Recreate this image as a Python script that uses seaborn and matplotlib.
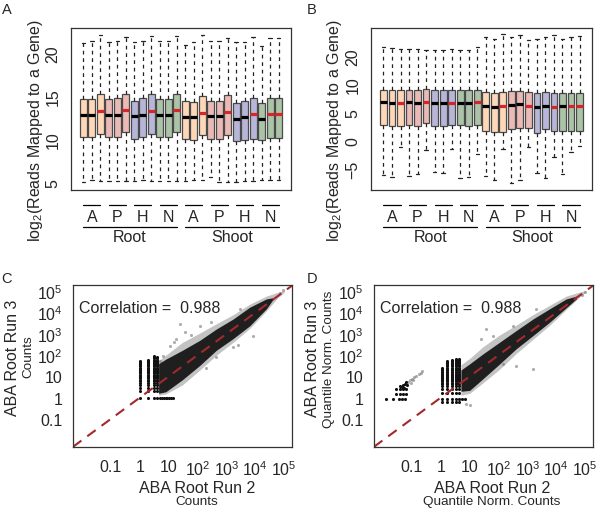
import numpy as np
import pandas as pd
import matplotlib
matplotlib.use('Agg')
import matplotlib.pyplot as plt
import seaborn as sns

# ---- libraries (24 boxes): tissue x treatment x replicate ----
tissues = ['Root', 'Shoot']
treatments = ['A', 'P', 'H', 'N']
n_rep = 3
treat_colours = {'A': '#FDD7B7', 'P': '#EABAB6', 'H': '#B7B6D8', 'N': '#ABC3A6'}
lib_names = [f'{t} {g} {r + 1}' for t in tissues for g in treatments for r in range(n_rep)]
lib_treat = [g for t in tissues for g in treatments for r in range(n_rep)]
red_median = [0, 0, 1, 0, 0, 1, 0, 0, 1, 0, 0, 1,
              0, 0, 1, 0, 0, 1, 0, 0, 1, 0, 1, 1]

# panel A: log2 raw counts
a_high = [21.1, 21.3, 22.1, 21.2, 21.4, 21.8, 21.2, 21.4, 21.9, 21.3, 21.4, 21.9,
          20.9, 21.2, 22.0, 21.3, 21.3, 21.7, 21.2, 21.2, 21.8, 20.8, 21.7, 21.7]
a_q3 = [14.7, 14.7, 15.2, 14.7, 14.8, 15.3, 14.5, 14.8, 15.2, 14.7, 14.7, 15.3,
        14.4, 14.3, 15.0, 14.5, 14.5, 15.1, 14.2, 14.4, 14.8, 14.2, 14.8, 14.8]
a_med = [12.85, 12.85, 13.3, 12.8, 12.8, 13.45, 12.7, 12.85, 13.35, 12.8, 12.8, 13.45,
         12.65, 12.55, 13.1, 12.75, 12.75, 13.15, 12.4, 12.55, 12.9, 12.4, 12.9, 12.9]
a_q1 = [10.35, 10.35, 10.7, 10.35, 10.35, 10.9, 10.1, 10.35, 10.7, 10.35, 10.3, 10.9,
        10.1, 9.95, 10.55, 10.1, 10.1, 10.5, 9.8, 10.0, 10.1, 9.9, 10.2, 10.2]
a_low = [5.1, 5.4, 5.2, 5.2, 5.2, 5.2, 5.2, 5.3, 5.2, 5.2, 5.2, 5.2,
         5.2, 5.3, 5.3, 5.7, 5.1, 5.1, 5.1, 5.2, 5.2, 5.3, 5.4, 5.3]

# panel B: log2 normalised
b_high = [16.7, 16.6, 16.4, 16.4, 16.4, 16.1, 16.1, 16.2, 16.4, 16.2, 16.1, 16.7,
          18.5, 18.2, 19.1, 18.5, 18.8, 17.9, 18.2, 18.5, 18.8, 18.2, 18.5, 18.6]
b_q3 = [9.05, 9.05, 9.05, 9.1, 9.1, 9.2, 9.05, 9.05, 9.05, 9.05, 9.05, 9.05,
        8.75, 8.5, 8.6, 8.8, 8.9, 8.6, 8.45, 8.6, 8.5, 8.45, 8.45, 8.45]
b_med = [6.85, 6.7, 6.7, 6.85, 6.75, 6.95, 6.75, 6.75, 6.75, 6.75, 6.7, 6.85,
         6.25, 5.95, 6.25, 6.45, 6.55, 6.25, 5.95, 6.25, 5.95, 6.25, 6.1, 6.1]
b_q1 = [2.8, 2.55, 2.7, 2.85, 2.7, 3.15, 2.7, 2.7, 2.8, 2.8, 2.55, 2.8,
        1.7, 1.6, 1.6, 2.1, 2.2, 2.2, 1.3, 2.1, 1.7, 1.8, 1.7, 1.7]
b_low = [-6.1, -6.4, -1.1, -6.3, -6.0, -1.7, -5.5, -5.8, -1.4, -6.6, -6.4, -2.4,
         -6.3, -7.1, -1.5, -7.6, -7.0, -1.1, -5.8, -6.7, -3.0, -5.9, -2.1, -0.9]

# ---- panels C / D: run 2 vs run 3 scatter ----
log_ticks = [0.1, 1, 10, 100, 1000, 10000, 100000]
log_labels = ['0.1', '1', '10', r'$\mathregular{10^2}$', r'$\mathregular{10^3}$',
              r'$\mathregular{10^4}$', r'$\mathregular{10^5}$']
stripe_counts = [2, 3, 4, 5, 6, 7, 8, 9, 10, 11, 12, 14, 16, 18, 20, 23, 26, 30,
                 35, 40, 45, 50, 55, 60, 70, 80, 90]

# C: raw counts
c_core_x = [4.5, 8, 30, 120, 450, 1700, 6400, 24000, 40000]
c_core_lo = [1.6, 1.9, 7, 33, 170, 600, 2400, 15000, 40000]
c_core_hi = [40, 65, 170, 500, 1700, 5000, 18000, 44000, 50000]
c_halo_x = [4.5, 8, 30, 120, 450, 1700, 6400, 24000, 60000, 100000]
c_halo_lo = [1.3, 1.5, 4, 20, 100, 400, 1800, 12000, 50000, 90000]
c_halo_hi = [55, 100, 400, 1100, 3000, 8000, 25000, 60000, 90000, 110000]
c_col_x = [1, 2, 3, 4]
c_col_top = [55, 65, 90, 80]
c_row_x = [1, 2, 3, 4, 5, 6, 7, 8, 9, 10, 12, 14]
c_out_x = [24, 36, 18.5, 120, 11, 6.4, 4.9, 450, 1700, 8200, 90000, 70000, 15, 60, 300, 3000, 200, 2500]
c_out_y = [2900, 1200, 580, 2400, 280, 96, 56, 80, 240, 830, 110000, 80000, 400, 900, 3500, 15000, 25, 300]

# D: quantile normalised counts
d_core_x = [5, 10, 29, 110, 410, 1550, 5800, 22000, 50000]
d_core_lo = [2.0, 2.2, 7.8, 39, 200, 830, 3500, 17000, 45000]
d_core_hi = [20, 39, 115, 410, 1440, 5000, 15000, 44000, 60000]
d_halo_x = [5, 10, 29, 110, 410, 1550, 5800, 22000, 60000, 100000]
d_halo_lo = [1.3, 1.6, 5, 22, 120, 550, 2500, 14000, 50000, 90000]
d_halo_hi = [35, 70, 250, 900, 2600, 8000, 22000, 60000, 90000, 110000]
d_col_x = [1.15, 1.7, 2.5, 3.3, 4.3]
d_col_top = [30, 60, 70, 80, 80]
d_low_x = [1.15, 1.7, 2.5, 3.3, 4.3, 5.5, 7, 1.15, 1.7, 2.5, 3.3, 4.3]
d_low_y = [0.85, 0.85, 0.85, 0.85, 0.85, 0.85, 0.85, 0.62, 0.62, 0.62, 0.62, 0.62]
d_ll_x = [0.013, 0.023, 0.035, 0.045, 0.06, 0.029, 0.038, 0.05, 0.065, 0.029, 0.038, 0.05,
          0.065, 0.04, 0.05, 0.06, 0.07, 0.055, 0.045, 0.065]
d_ll_y = [0.83, 0.83, 0.83, 0.83, 0.83, 1.55, 1.55, 1.55, 1.55, 2.5, 2.5, 2.5,
          2.5, 3.5, 4.0, 4.5, 3.8, 3.0, 3.2, 5.2]
d_out_x = [316, 64, 38, 140, 410, 1550, 10, 7.7, 100000, 80000, 25, 2000,
           0.075, 0.085, 0.1, 0.12, 0.14, 0.17, 0.2, 0.22, 0.09, 0.11]
d_out_y = [2400, 830, 1700, 39, 30, 23, 0.44, 0.52, 90000, 70000, 600, 15000,
           5.5, 6.5, 7.5, 9, 11, 13, 15, 18, 5, 7]

FS = 11.5
FRAME = '#333333'

sns.set_style('white')
plt.rcParams['font.family'] = ['Liberation Sans', 'DejaVu Sans']
plt.rcParams['mathtext.fontset'] = 'custom'
plt.rcParams['mathtext.rm'] = 'Liberation Sans'
plt.rcParams['mathtext.it'] = 'Liberation Sans:italic'


def style_frame(ax):
    for sp in ax.spines.values():
        sp.set_visible(True)
        sp.set_color(FRAME)
        sp.set_linewidth(0.9)
    ax.tick_params(length=6, width=0.9, color=FRAME, labelsize=FS, pad=1.5)


def draw_boxes(ax, lo, q1, med, q3, hi):
    # five numbers per library give exact quartiles / whisker ends
    rows = []
    for name, vals in zip(lib_names, zip(lo, q1, med, q3, hi)):
        for v in vals:
            rows.append({'lib': name, 'value': v})
    df = pd.DataFrame(rows)
    palette = {n: treat_colours[t] for n, t in zip(lib_names, lib_treat)}
    sns.boxplot(data=df, x='lib', y='value', hue='lib', order=lib_names, hue_order=lib_names,
                palette=palette, saturation=1, width=0.8, whis=(0, 100), legend=False,
                linecolor='#4a4a4a', linewidth=0.9, showfliers=False, capwidths=0.4,
                medianprops=dict(color='black', linewidth=2.3, gid='median'),
                whiskerprops=dict(color='#222222', linestyle=(0, (3, 3))),
                capprops=dict(color='#222222'), ax=ax)
    meds = sorted([l for l in ax.lines if l.get_gid() == 'median'],
                  key=lambda l: np.mean(l.get_xdata()))
    for line, red in zip(meds, red_median):
        if red:
            line.set_color('#D7262B')
    ax.set_xlim(-1.46, len(lib_names) - 1 + 1.46)
    ax.set_xlabel('')
    ax.set_ylabel('')
    ax.set_xticks(range(len(lib_names)))
    ax.set_xticklabels([])
    style_frame(ax)

    trans = ax.get_xaxis_transform()
    for k, g in enumerate(treatments * len(tissues)):
        x0, x1 = k * n_rep, k * n_rep + n_rep - 1
        ax.plot([x0, x1], [-0.091, -0.091], transform=trans, clip_on=False, color='black', lw=0.9)
        ax.text((x0 + x1) / 2, -0.162, g, transform=trans, ha='center', va='center', fontsize=FS)
    span = n_rep * len(treatments)
    for k, t in enumerate(tissues):
        x0, x1 = k * span, k * span + span - 1
        ax.plot([x0, x1], [-0.227, -0.227], transform=trans, clip_on=False, color='black', lw=0.9)
        ax.text((x0 + x1) / 2, -0.29, t, transform=trans, ha='center', va='center', fontsize=FS)


def stripe_points(col_x, col_top):
    xs, ys = [], []
    for x, top in zip(col_x, col_top):
        for y in stripe_counts:
            if y <= top:
                xs.append(x)
                ys.append(y)
    return xs, ys


def draw_scatter(ax, core, halo, pts_black, pts_grey):
    ax.set_xscale('log')
    ax.set_yscale('log')
    hx, hlo, hhi = halo
    ax.fill_between(hx, hlo, hhi, color='#555555', alpha=0.35, lw=0)
    for xs, ys in pts_grey:
        sns.scatterplot(x=xs, y=ys, color='#777777', s=5, linewidth=0, alpha=0.6, ax=ax)
    cx, clo, chi = core
    ax.fill_between(cx, clo, chi, color='#111111', alpha=0.92, lw=0)
    for xs, ys in pts_black:
        sns.scatterplot(x=xs, y=ys, color='#111111', s=5, linewidth=0, ax=ax)
    ax.axline((1, 1), (1000, 1000), color='#A3292B', lw=1.5, ls=(0, (5, 3.5)))
    ax.set_xlim(10 ** -2.31, 10 ** 5.27)
    ax.set_ylim(10 ** -2.32, 10 ** 5.3)
    ax.minorticks_off()
    ax.set_xticks(log_ticks)
    ax.set_xticklabels(log_labels)
    ax.set_yticks(log_ticks)
    ax.set_yticklabels(log_labels)
    style_frame(ax)
    ax.tick_params(axis='x', pad=2.5)
    ax.text(0.027, 0.864, 'Correlation =  0.988', transform=ax.transAxes,
            ha='left', va='center', fontsize=FS)


fig = plt.figure(figsize=(6, 5.1), dpi=100)
W, H = 600, 510


def px_axes(left, top, right, bottom):
    return fig.add_axes([left / W, 1 - bottom / H, (right - left) / W, (bottom - top) / H])


def px_text(x, y, s, **kw):
    fig.text(x / W, 1 - y / H, s, ha='center', va='center', **kw)


ax_a = px_axes(71, 29, 291, 191)
draw_boxes(ax_a, a_low, a_q1, a_med, a_q3, a_high)
ax_a.set_ylim(4.2, 22.85)
ax_a.set_yticks([5, 10, 15, 20])
ax_a.set_yticklabels(['5', '10', '15', '20'], rotation=90, va='center')

ax_b = px_axes(371, 29, 592, 191)
draw_boxes(ax_b, b_low, b_q1, b_med, b_q3, b_high)
ax_b.set_ylim(-8.8, 20.1)
ax_b.set_yticks([-5, 0, 5, 10, 15])
ax_b.set_yticklabels(['\u22125', '0', '5', '10', '20'], rotation=90, va='center')

ylab = r'$\mathregular{log_2}$(Reads Mapped to a Gene)'
px_text(36, 130, ylab, rotation=90, fontsize=FS)
px_text(335, 130, ylab, rotation=90, fontsize=FS)

c_sx, c_sy = stripe_points(c_col_x, c_col_top)
ax_c = px_axes(73, 286, 292, 448)
draw_scatter(ax_c, (c_core_x, c_core_lo, c_core_hi), (c_halo_x, c_halo_lo, c_halo_hi),
             [(c_sx, c_sy), (c_row_x, [1] * len(c_row_x))],
             [(c_out_x, c_out_y)])

d_sx, d_sy = stripe_points(d_col_x, d_col_top)
d_sy = [y * 0.85 for y in d_sy]
ax_d = px_axes(374, 286, 593, 448)
draw_scatter(ax_d, (d_core_x, d_core_lo, d_core_hi), (d_halo_x, d_halo_lo, d_halo_hi),
             [(d_sx, d_sy), (d_low_x, d_low_y), (d_ll_x, d_ll_y)],
             [(d_out_x, d_out_y)])

px_text(197, 488.5, 'ABA Root Run 2', fontsize=FS)
px_text(197, 502.5, 'Counts', fontsize=9.7)
px_text(13, 358, 'ABA Root Run 3', rotation=90, fontsize=FS)
px_text(28.5, 357, 'Counts', rotation=90, fontsize=9.7)
px_text(492, 488.5, 'ABA Root Run 2', fontsize=FS)
px_text(492, 502.5, 'Quantile Norm. Counts', fontsize=9.7)
px_text(313, 359, 'ABA Root Run 3', rotation=90, fontsize=FS)
px_text(329, 359, 'Quantile Norm. Counts', rotation=90, fontsize=9.7)

for lab, x, y in [('A', 7, 10), ('B', 312, 10), ('C', 7, 279), ('D', 312, 279)]:
    px_text(x, y, lab, fontsize=10.5)

fig.savefig('out.png', dpi=100)
